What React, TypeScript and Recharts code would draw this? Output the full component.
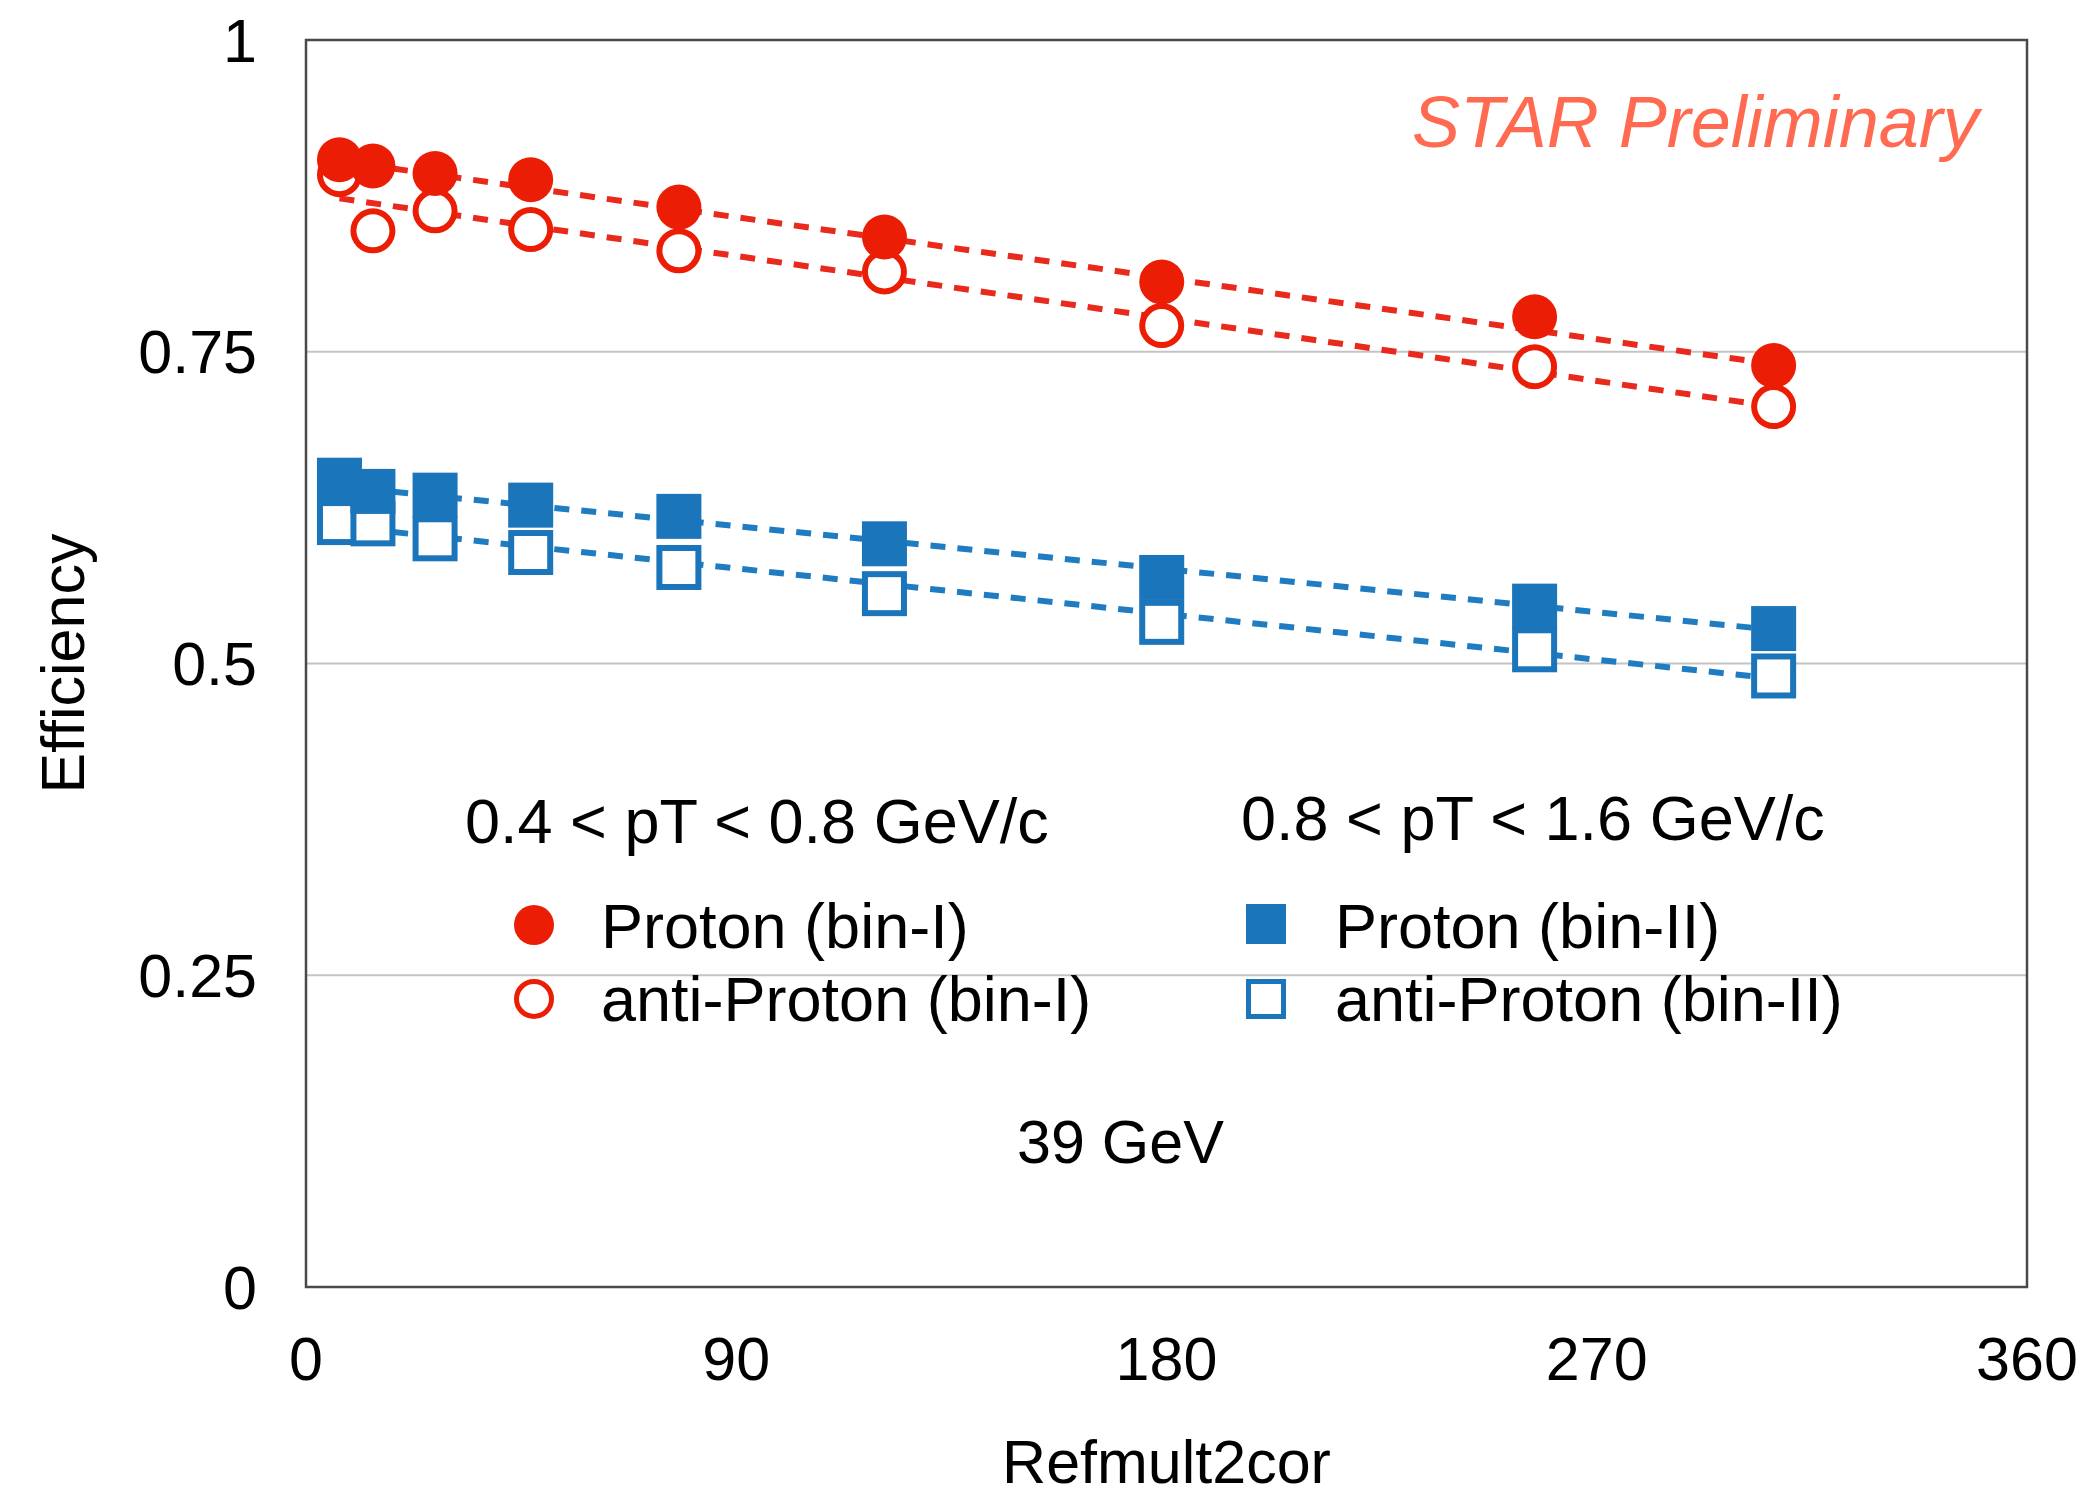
import {
  ScatterChart,
  Scatter,
  XAxis,
  YAxis,
  CartesianGrid,
  ReferenceLine,
  ReferenceArea,
  Label,
} from "recharts"

// Refmult2cor centrality bins
const refmult = [7, 14, 27, 47, 78, 121, 179, 257, 307]

// efficiencies, 0.4 < pT < 0.8 GeV/c
const protonBinI = [0.904, 0.899, 0.893, 0.888, 0.866, 0.842, 0.806, 0.778, 0.739]
const antiProtonBinI = [0.892, 0.847, 0.863, 0.848, 0.831, 0.814, 0.771, 0.738, 0.706]

// efficiencies, 0.8 < pT < 1.6 GeV/c
const protonBinII = [0.647, 0.638, 0.635, 0.627, 0.618, 0.596, 0.569, 0.546, 0.528]
const antiProtonBinII = [0.613, 0.612, 0.6, 0.589, 0.577, 0.556, 0.533, 0.511, 0.49]

// linear fits, from first to last bin
const fitRange = [7, 307]
const protonBinIFit = [0.903, 0.74]
const antiProtonBinIFit = [0.873, 0.706]
const protonBinIIFit = [0.642, 0.527]
const antiProtonBinIIFit = [0.61, 0.488]

const xTicks = [0, 90, 180, 270, 360]
const yTicks = [0, 0.25, 0.5, 0.75, 1]

const RED = "#eb1e05"
const RED_LINE = "#e8291c"
const BLUE = "#1b75bb"
const BLUE_LINE = "#1f7cc1"
const FONT = "'Liberation Sans', Arial, Helvetica, sans-serif"

const toPoints = (ys: number[]) => refmult.map((x, i) => ({ x, y: ys[i] }))
const toSegment = (ys: number[]) => [
  { x: fitRange[0], y: ys[0] },
  { x: fitRange[1], y: ys[1] },
]

const FilledCircle = (fill: string, r: number) => (p: any) =>
  <circle cx={p.cx} cy={p.cy} r={r} fill={fill} />
const OpenCircle = (stroke: string, r: number, w: number) => (p: any) =>
  <circle cx={p.cx} cy={p.cy} r={r} fill="#fff" stroke={stroke} strokeWidth={w} />
const FilledSquare = (fill: string, s: number) => (p: any) =>
  <rect x={p.cx - s / 2} y={p.cy - s / 2} width={s} height={s} fill={fill} />
const OpenSquare = (stroke: string, s: number, w: number) => (p: any) =>
  <rect x={p.cx - s / 2} y={p.cy - s / 2} width={s} height={s} fill="#fff" stroke={stroke} strokeWidth={w} />

const fits = [
  { ys: protonBinIFit, color: RED_LINE },
  { ys: antiProtonBinIFit, color: RED_LINE },
  { ys: protonBinIIFit, color: BLUE_LINE },
  { ys: antiProtonBinIIFit, color: BLUE_LINE },
]

function LegendBlock() {
  const txt = { fontSize: 63, fill: "#000", fontFamily: FONT }
  const at = (cx: number, cy: number) => ({ cx, cy })
  return (
    <svg
      width={2090}
      height={1496}
      style={{ position: "absolute", left: 0, top: 0, pointerEvents: "none" }}
    >
      <text x={465} y={843} {...txt}>{"0.4 < pT < 0.8 GeV/c"}</text>
      <text x={1241} y={840} {...txt}>{"0.8 < pT < 1.6 GeV/c"}</text>

      {FilledCircle(RED, 20)(at(534, 925))}
      <text x={601} y={948} {...txt}>Proton (bin-I)</text>
      {OpenCircle(RED, 17.5, 5)(at(534, 999))}
      <text x={601} y={1021} {...txt}>anti-Proton (bin-I)</text>

      {FilledSquare(BLUE, 40)(at(1266, 924))}
      <text x={1335} y={948} {...txt}>Proton (bin-II)</text>
      {OpenSquare(BLUE, 35, 5)(at(1266, 999))}
      <text x={1335} y={1021} {...txt}>anti-Proton (bin-II)</text>

      <text x={1017} y={1163} fontSize={61} fill="#000" fontFamily={FONT}>39 GeV</text>
      <text
        x={1412}
        y={147}
        fontSize={72}
        fontStyle="italic"
        fill="#ff6a50"
        fontFamily={FONT}
      >
        STAR Preliminary
      </text>
    </svg>
  )
}

export default function App() {
  return (
    <div
      style={{
        position: "absolute",
        left: 0,
        top: 0,
        width: 2090,
        height: 1496,
        background: "#fff",
        fontFamily: FONT,
      }}
    >
      <ScatterChart
        width={2090}
        height={1496}
        margin={{ top: 40, right: 63, bottom: 0, left: 0 }}
      >
        <CartesianGrid vertical={false} stroke="#c4c4c4" strokeWidth={2} />
        <XAxis
          type="number"
          dataKey="x"
          domain={[0, 360]}
          ticks={xTicks}
          interval={0}
          height={209}
          tickLine={false}
          tickSize={0}
          tickMargin={50}
          axisLine={false}
          tick={{ fontSize: 61, fill: "#000" }}
        >
          <Label value="Refmult2cor" position="insideBottom" offset={13} fontSize={61} fill="#000" />
        </XAxis>
        <YAxis
          type="number"
          dataKey="y"
          domain={[0, 1]}
          ticks={yTicks}
          interval={0}
          width={306}
          tickLine={false}
          tickSize={0}
          tickMargin={49}
          axisLine={false}
          tick={{ fontSize: 61, fill: "#000" }}
        >
          <Label
            value="Efficiency"
            angle={-90}
            position="insideLeft"
            offset={62}
            fontSize={61}
            fill="#000"
            style={{ textAnchor: "middle" }}
          />
        </YAxis>
        <ReferenceArea
          x1={0}
          x2={360}
          y1={0}
          y2={1}
          fill="none"
          stroke="#4a4a4a"
          strokeWidth={2.5}
        />

        <Scatter
          name="anti-Proton (bin-I)"
          data={toPoints(antiProtonBinI)}
          shape={OpenCircle(RED, 19.5, 6)}
          isAnimationActive={false}
        />
        <Scatter
          name="Proton (bin-I)"
          data={toPoints(protonBinI)}
          shape={FilledCircle(RED, 22.5)}
          isAnimationActive={false}
        />
        <Scatter
          name="anti-Proton (bin-II)"
          data={toPoints(antiProtonBinII)}
          shape={OpenSquare(BLUE, 39, 6)}
          isAnimationActive={false}
        />
        <Scatter
          name="Proton (bin-II)"
          data={toPoints(protonBinII)}
          shape={FilledSquare(BLUE, 45)}
          isAnimationActive={false}
        />

        {fits.map((f, i) => (
          <ReferenceLine
            key={i}
            segment={toSegment(f.ys)}
            stroke={f.color}
            strokeWidth={6}
            strokeDasharray="15 12"
          />
        ))}
      </ScatterChart>
      <LegendBlock />
    </div>
  )
}
